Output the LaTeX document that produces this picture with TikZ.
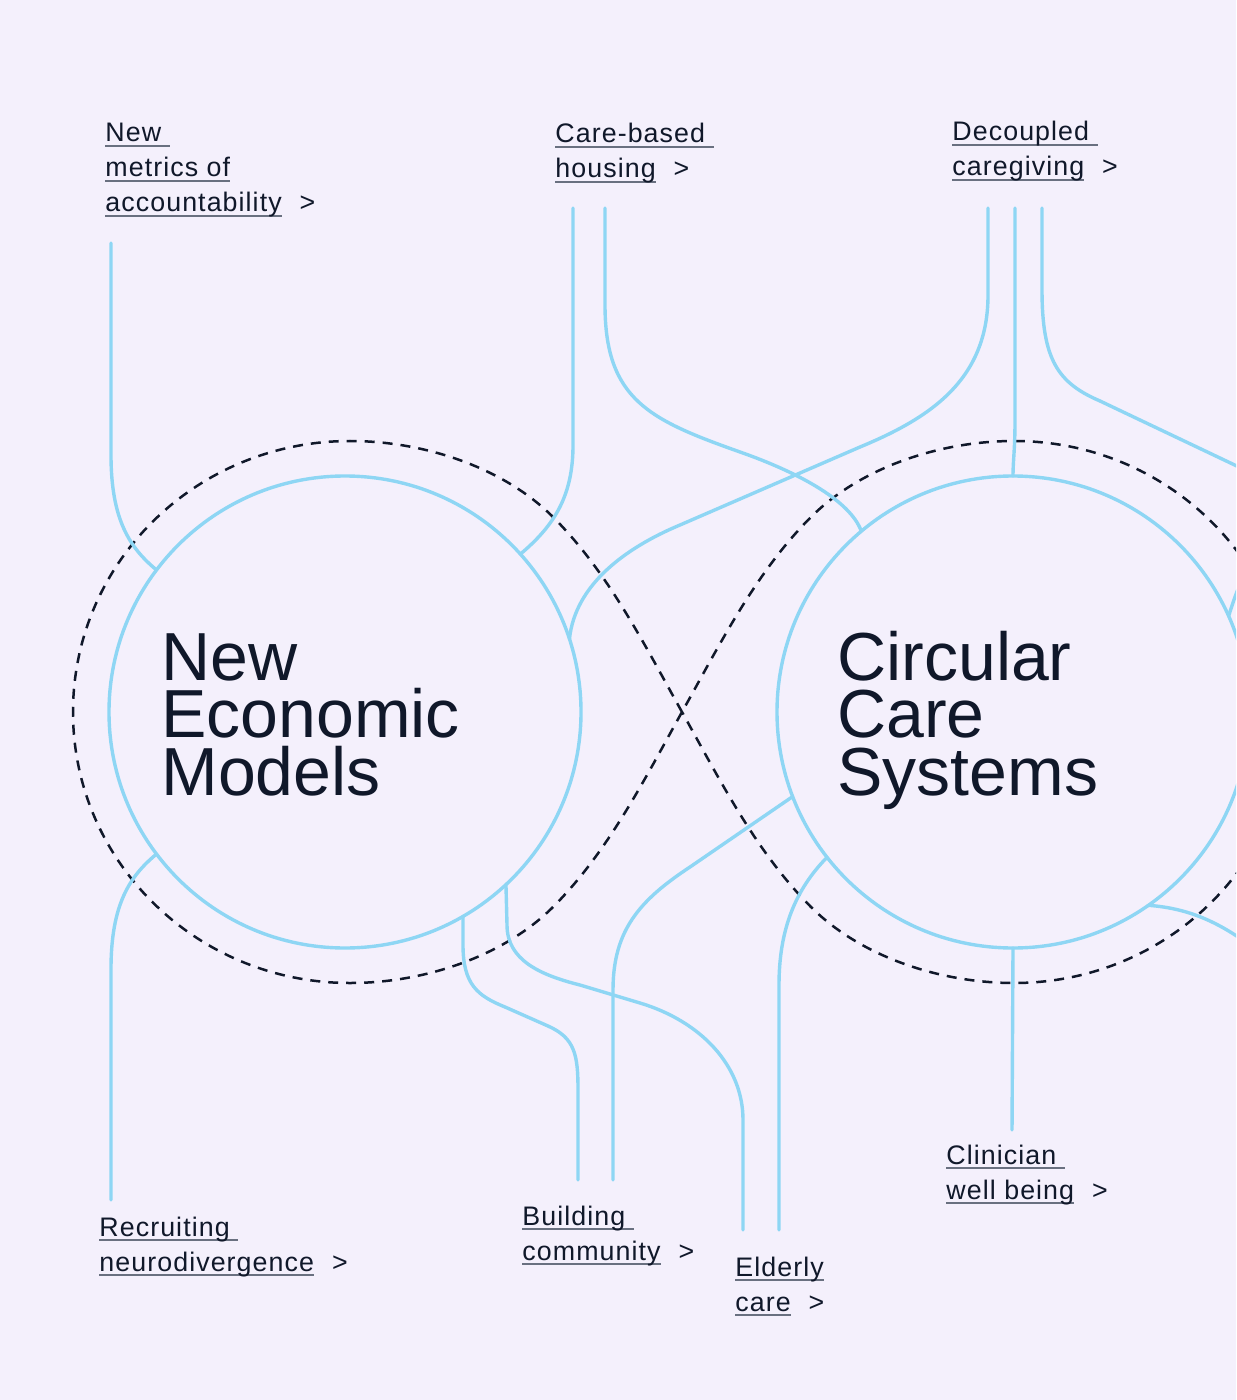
\documentclass[tikz,border=0pt]{standalone}
\usepackage{fontspec}
\setmainfont{Liberation Sans}
\newfontfamily\lblfamily[LetterSpace=4.0]{Liberation Sans}
\definecolor{paper}{RGB}{244,240,252}
\definecolor{threadblue}{RGB}{142,214,244}
\definecolor{ink}{RGB}{16,24,42}
\definecolor{rulegray}{RGB}{105,112,128}
\newcommand\lk[1]{\setbox0\hbox{#1}\rlap{\color{rulegray}\rule[-2.3pt]{\wd0}{0.6pt}}\box0}
\newcommand\more{\hspace{9pt}>}
\begin{document}
\begin{tikzpicture}[x=0.5pt, y=-0.5pt, line cap=round, line join=round]
\tikzset{
    thread/.style={draw=threadblue, line width=1.7pt},
    hub/.style={circle, draw=threadblue, line width=1.7pt, minimum size=236pt, inner sep=0pt, outer sep=0pt},
    loop8/.style={draw=ink, line width=1.25pt, dash pattern=on 5pt off 4pt, line cap=butt},
    ttl/.style={anchor=base west, inner sep=0pt, text=ink, font={\fontsize{34}{28.75}\selectfont\lineskiplimit=-\maxdimen}},
    lbl/.style={anchor=base west, inner sep=0pt, text=ink, font={\lblfamily\fontsize{13.4}{17.5}\selectfont\lineskiplimit=-\maxdimen}}
}
\fill[paper] (0,0) rectangle (1236,1400);
\clip (0,0) rectangle (1236,1400);

\node[hub] (nem) at (345,712) {};
\node[hub] (ccs) at (1013,712) {};

\draw[loop8] (682,712) .. controls (644,644) and (608,572) .. (553,517)
    .. controls (504,468) and (425,441) .. (350,441)
    .. controls (197,441) and (73,562) .. (73,712)
    .. controls (73,862) and (197,983) .. (350,983)
    .. controls (425,983) and (504,956) .. (553,907)
    .. controls (608,852) and (644,780) .. (682,712)
    .. controls (720,644) and (756,572) .. (811,517)
    .. controls (860,468) and (939,441) .. (1014,441)
    .. controls (1167,441) and (1291,562) .. (1291,712)
    .. controls (1291,862) and (1167,983) .. (1014,983)
    .. controls (939,983) and (860,956) .. (811,907)
    .. controls (756,852) and (720,780) .. (682,712);

\coordinate (nmtop) at (111,243);
\coordinate (cb1) at (573,208);
\coordinate (cb2) at (605,208);
\coordinate (dc1) at (988,208);
\coordinate (dc2) at (1015,208);
\coordinate (dc3) at (1042,208);
\coordinate (rnbot) at (111,1200);
\coordinate (bc1) at (578,1180);
\coordinate (bc2) at (613,1180);
\coordinate (ec1) at (743,1230);
\coordinate (ec2) at (779,1230);
\coordinate (cwbot) at (1012,1130);
\coordinate (edgeA) at (1262,478);
\coordinate (edgeB) at (1250,565);
\coordinate (edgeC) at (1262,955);

\draw[thread] (nmtop) -- (111,455) .. controls (111,520) and (130,548) .. (nem.143);
\draw[thread] (rnbot) -- (111,969) .. controls (111,904) and (130,876) .. (nem.217);
\draw[thread] (cb1) -- (573,445) .. controls (573,495) and (555,525) .. (nem.42);
\draw[thread] (cb2) -- (605,305) .. controls (605,400) and (650,420) .. (740,452)
    .. controls (797,472) and (850,500) .. (ccs.130);
\draw[thread] (dc1) -- (988,295) .. controls (988,380) and (930,418) .. (860,447)
    -- (680,525) .. controls (625,548) and (575,585) .. (nem.18);
\draw[thread] (dc2) -- (1015,420) .. controls (1015,450) and (1013,460) .. (ccs.90);
\draw[thread] (dc3) -- (1042,290) .. controls (1042,360) and (1058,383) .. (1100,401) -- (edgeA);
\draw[thread] (ccs.24) .. controls (1234,600) and (1238,585) .. (edgeB);
\draw[thread] (ccs.-55) .. controls (1185,908) and (1220,920) .. (edgeC);
\draw[thread] (nem.-60) -- (463,945) .. controls (463,985) and (478,996) .. (505,1007)
    -- (548,1026) .. controls (575,1038) and (578,1055) .. (578,1090) -- (bc1);
\draw[thread] (bc2) -- (613,990) .. controls (613,930) and (640,900) .. (690,867) -- (ccs.201);
\draw[thread] (nem.-47) -- (507,925) .. controls (507,960) and (540,975) .. (580,985)
    -- (640,1003) .. controls (700,1021) and (743,1065) .. (743,1120) -- (ec1);
\draw[thread] (ec2) -- (779,985) .. controls (779,930) and (795,890) .. (ccs.218);
\draw[thread] (cwbot) -- (ccs.270);

\node[ttl] (nemtitle) at (161,680) {\vtop{\hbox{New}\hbox{Economic}\hbox{Models}}};
\node[ttl] (ccstitle) at (837,680) {\vtop{\hbox{Circular}\hbox{Care}\hbox{Systems}}};

\node[lbl] (nmlbl) at (105,142) {\vtop{\hbox{\lk{New~}}\hbox{\lk{metrics of}}\hbox{\lk{accountability}\more}}};
\node[lbl] (cblbl) at (555,143) {\vtop{\hbox{\lk{Care-based~}}\hbox{\lk{housing}\more}}};
\node[lbl] (dclbl) at (952,141) {\vtop{\hbox{\lk{Decoupled~}}\hbox{\lk{caregiving}\more}}};
\node[lbl] (rnlbl) at (99,1236) {\vtop{\hbox{\lk{Recruiting~}}\hbox{\lk{neurodivergence}\more}}};
\node[lbl] (bclbl) at (522,1225) {\vtop{\hbox{\lk{Building~}}\hbox{\lk{community}\more}}};
\node[lbl] (eclbl) at (735,1276) {\vtop{\hbox{\lk{Elderly}}\hbox{\lk{care}\more}}};
\node[lbl] (cwlbl) at (946,1164) {\vtop{\hbox{\lk{Clinician~}}\hbox{\lk{well being}\more}}};
\end{tikzpicture}
\end{document}
